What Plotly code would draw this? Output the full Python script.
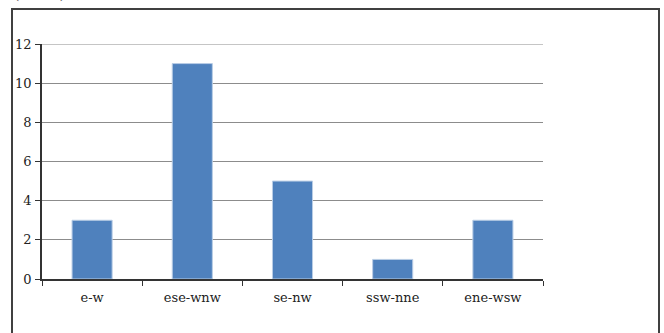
import plotly.graph_objects as go

# Wind direction counts
directions = ["e-w", "ese-wnw", "se-nw", "ssw-nne", "ene-wsw"]
counts = [3, 11, 5, 1, 3]
y_ticks = [0, 2, 4, 6, 8, 10, 12]

W, H = 664, 333
L, R, T, B = 42, 121, 44, 54
pw, ph = W - L - R, H - T - B

def px_x(x):
    return (x - L) / pw

def px_y(y):
    return (H - B - y) / ph

fig = go.Figure(
    go.Bar(
        x=directions,
        y=counts,
        marker=dict(color="#4F81BD", line=dict(color="#B9CDE5", width=1)),
    )
)

font = dict(family="DejaVu Serif", size=13, color="#222222")

fig.update_layout(
    width=W,
    height=H,
    margin=dict(l=L, r=R, t=T, b=B),
    paper_bgcolor="white",
    plot_bgcolor="white",
    bargap=0.6,
    showlegend=False,
    font=font,
    xaxis=dict(
        showline=True,
        linecolor="#333333",
        linewidth=1.5,
        ticks="outside",
        tickson="boundaries",
        ticklen=5,
        tickcolor="#333333",
        showgrid=False,
        tickfont=font,
        ticklabelstandoff=6,
    ),
    yaxis=dict(
        range=[0, 12],
        tickvals=y_ticks,
        showline=True,
        linecolor="#333333",
        linewidth=1.5,
        ticks="outside",
        ticklen=5,
        tickcolor="#333333",
        showgrid=True,
        gridcolor="#8C8C8C",
        gridwidth=1.2,
        zeroline=False,
        tickfont=font,
        ticklabelstandoff=1,
    ),
    shapes=[
        dict(
            type="rect",
            xref="paper",
            yref="paper",
            x0=px_x(12),
            x1=px_x(659),
            y0=px_y(345),
            y1=px_y(9),
            line=dict(color="#404040", width=2),
            fillcolor="rgba(0,0,0,0)",
            layer="below",
        ),
        # top gridline at the range maximum
        dict(
            type="line",
            xref="paper",
            yref="y",
            x0=0,
            x1=1,
            y0=y_ticks[-1],
            y1=y_ticks[-1],
            line=dict(color="#8C8C8C", width=1.2),
            layer="below",
        ),
    ],
    annotations=[
        dict(
            text="(count)",
            xref="paper",
            yref="paper",
            x=px_x(12),
            y=px_y(4),
            xanchor="left",
            yanchor="bottom",
            showarrow=False,
            font=dict(family="DejaVu Serif", size=14, color="#333333"),
        )
    ],
)

fig.write_html("out.html")
